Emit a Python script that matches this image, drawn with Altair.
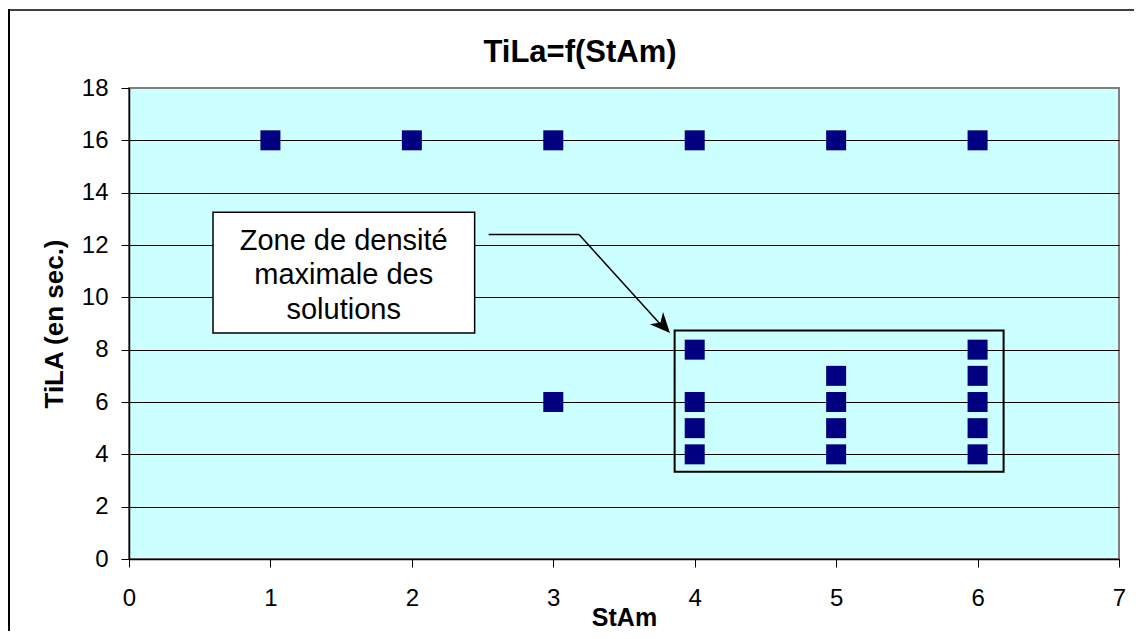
import altair as alt
import pandas as pd

# Data
stam = [1, 2, 3, 4, 5, 6, 3, 4, 4, 4, 4, 5, 5, 5, 5, 6, 6, 6, 6, 6]
tila = [16, 16, 16, 16, 16, 16, 6, 8, 6, 5, 4, 7, 6, 5, 4, 8, 7, 6, 5, 4]
x_ticks = [0, 1, 2, 3, 4, 5, 6, 7]
y_ticks = [0, 2, 4, 6, 8, 10, 12, 14, 16, 18]
note_lines = ["Zone de densité", "maximale des", "solutions"]
chart_title = "TiLa=f(StAm)"

df = pd.DataFrame({"StAm": stam, "TiLA": tila})
one = pd.DataFrame({"k": [0]})

FONT = "Liberation Sans"
W, H = 990, 471

x_scale = alt.Scale(domain=[0, 7], nice=False, zero=False)
y_scale = alt.Scale(domain=[0, 18], nice=False, zero=False)

x_axis = alt.Axis(
    values=x_ticks, format="d", grid=False, tickSize=8, tickColor="black", tickWidth=1,
    domainColor="black", domainWidth=1.5, labelFontSize=24, labelFont=FONT,
    labelColor="black", labelPadding=19, labelFlush=False, labelOverlap=False,
    title="StAm", titleFont=FONT, titleFontSize=25, titleFontWeight="bold",
    titleColor="black", titleX=W / 2, titleY=66, titleBaseline="alphabetic",
    titleAlign="center",
)
y_axis = alt.Axis(
    values=y_ticks, format="d", grid=True,
    gridColor={"condition": {"test": "datum.value === 18", "value": "#808080"}, "value": "black"},
    gridWidth=1, tickSize=8, tickColor="black", tickWidth=1,
    domainColor="black", domainWidth=1.5, labelFontSize=24, labelFont=FONT,
    labelColor="black", labelPadding=13, labelFlush=False, labelOverlap=False,
    title="TiLA (en sec.)", titleFont=FONT, titleFontSize=26, titleFontWeight="bold",
    titleColor="black", titleX=-67, titleY=H / 2, titleAngle=270,
    titleBaseline="alphabetic", titleAlign="center",
)

points = alt.Chart(df).mark_square(size=400, color="#000080", opacity=1).encode(
    x=alt.X("StAm:Q", scale=x_scale, axis=x_axis),
    y=alt.Y("TiLA:Q", scale=y_scale, axis=y_axis),
)

# chart title
title_text = alt.Chart(one).mark_text(
    font=FONT, fontSize=31, fontWeight="bold", color="black", align="center",
    baseline="alphabetic",
).encode(x=alt.value(W / 2 - 44), y=alt.value(-26.5), text=alt.value(chart_title))

# annotation text box
note_box = alt.Chart(one).mark_rect(fill="white", stroke="black", strokeWidth=1.5).encode(
    x=alt.datum(0.594), x2=alt.datum(2.444), y=alt.datum(13.25), y2=alt.datum(8.64)
)
note_text = alt.Chart(one).mark_text(
    font=FONT, fontSize=29, color="black", align="center", baseline="alphabetic",
    lineHeight=34.7,
).encode(x=alt.datum(1.518), y=alt.datum(11.82), text=alt.value(note_lines))

# arrow (leader line + head)
arrow1 = alt.Chart(one).mark_rule(color="black", strokeWidth=1.5).encode(
    x=alt.datum(2.543), x2=alt.datum(3.182), y=alt.datum(12.40), y2=alt.datum(12.40)
)
arrow2 = alt.Chart(one).mark_rule(color="black", strokeWidth=1.5).encode(
    x=alt.datum(3.182), x2=alt.datum(3.76), y=alt.datum(12.40), y2=alt.datum(8.95)
)
arrow_head = alt.Chart(one).mark_point(
    shape="M0,0 L-0.9,2 L0,1.4 L0.9,2 Z", filled=True, color="black", opacity=1,
    size=400, angle=137.4, strokeWidth=0,
).encode(x=alt.datum(3.825), y=alt.datum(8.64))

# dense zone rectangle
zone = alt.Chart(one).mark_rect(fill=None, stroke="black", strokeWidth=2).encode(
    x=alt.datum(3.858), x2=alt.datum(6.184), y=alt.datum(8.736), y2=alt.datum(3.336)
)

# outer chart frame (top and left edges)
frame_top = alt.Chart(one).mark_rule(color="black", strokeWidth=1.5).encode(
    x=alt.value(-121), x2=alt.value(W + 30), y=alt.value(-78), y2=alt.value(-78)
)
frame_left = alt.Chart(one).mark_rule(color="black", strokeWidth=2).encode(
    x=alt.value(-120), x2=alt.value(-120), y=alt.value(-79), y2=alt.value(H + 90)
)

chart = alt.layer(
    note_box, note_text, arrow1, arrow2, arrow_head, zone, points,
    title_text, frame_top, frame_left
).properties(
    width=W, height=H,
    autosize=alt.AutoSizeParams(type="none"),
    padding={"left": 121, "top": 80, "right": 15, "bottom": 72},
    background="white",
).configure_view(
    fill="#CCFFFF", stroke="#808080", strokeWidth=2
)

chart.save("out.html", embed_options={"renderer": "svg", "actions": False})
